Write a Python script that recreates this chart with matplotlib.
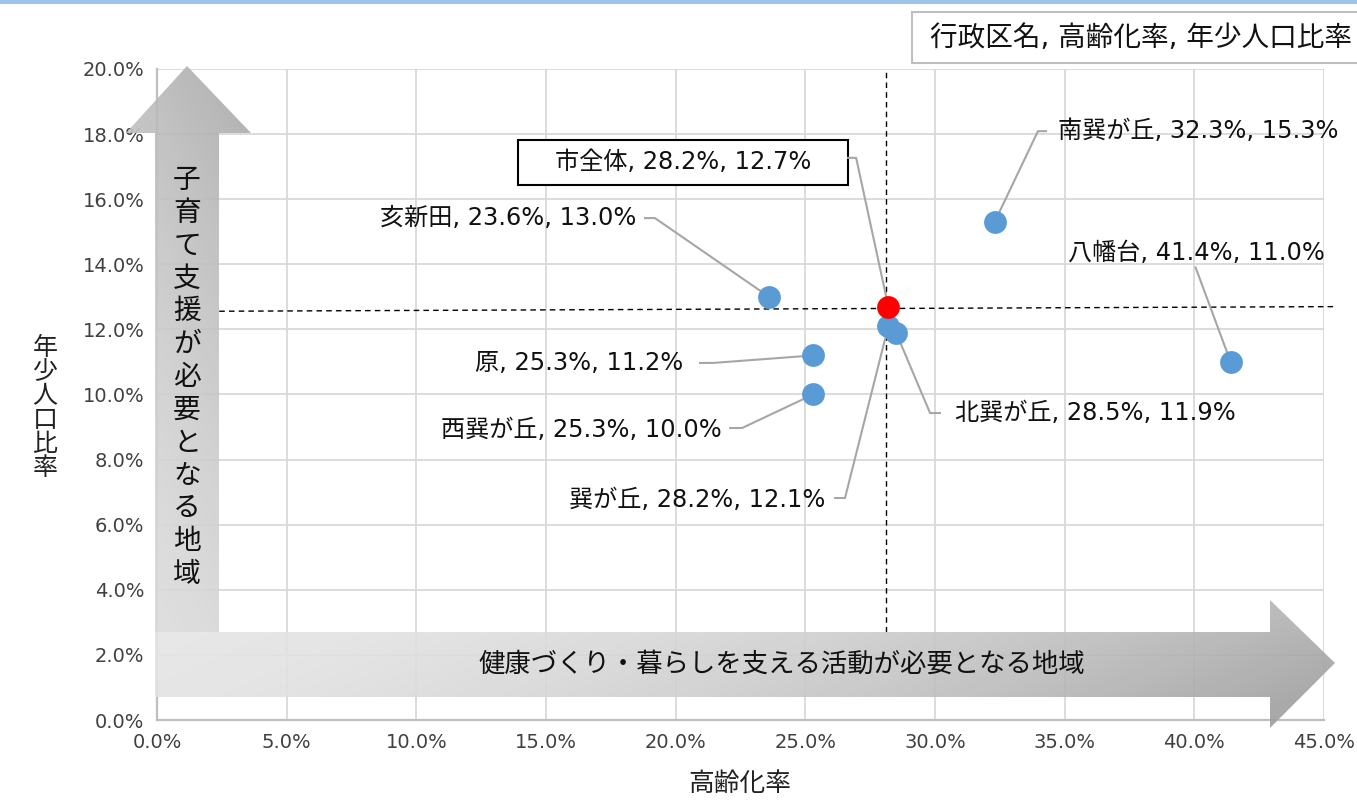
import matplotlib
matplotlib.use("Agg")
import matplotlib.pyplot as plt
import numpy as np
from matplotlib.patches import Polygon, Rectangle
from matplotlib.ticker import FuncFormatter

plt.rcParams['font.family'] = ['DejaVu Sans', 'Noto Sans CJK JP']

# ---- data ----
names = ['南巽が丘', '八幡台', '亥新田', '原', '西巽が丘', '巽が丘', '北巽が丘']
aging = [32.3, 41.4, 23.6, 25.3, 25.3, 28.2, 28.5]      # 高齢化率 (%)
youth = [15.3, 11.0, 13.0, 11.2, 10.0, 12.1, 11.9]      # 年少人口比率 (%)
city_name = '市全体'
city_aging = 28.2
city_youth = 12.7
ref_x = 28.1
ref_y = (12.55, 12.7)

x_ticks = np.arange(0, 46, 5)
y_ticks = np.arange(0, 21, 2)

# label layout (data coords): text x, text y, alignment, elbow points
label_layout = {
    '南巽が丘': (34.74, 18.1, 'left', [(34.28, 18.09), (33.97, 18.09)]),
    '八幡台': (40.1, 14.35, 'center', [(40.05, 13.9)]),
    '亥新田': (18.47, 15.42, 'right', [(18.82, 15.42), (19.2, 15.42)]),
    '原': (20.28, 10.97, 'right', [(20.94, 10.97), (21.45, 10.97)]),
    '西巽が丘': (21.79, 8.91, 'right', [(22.1, 8.97), (22.56, 8.97)]),
    '巽が丘': (25.76, 6.76, 'right', [(26.15, 6.82), (26.53, 6.82)]),
    '北巽が丘': (30.77, 9.43, 'left', [(30.19, 9.43), (29.81, 9.43)]),
}
city_elbow = [(26.65, 17.27), (26.96, 17.27)]

W, H = 1357, 800
fig = plt.figure(figsize=(W / 100, H / 100), dpi=100)
rect = [157 / W, 80 / H, 1167 / W, 651 / H]

# ---- base axes: grid, ticks ----
ax = fig.add_axes(rect, zorder=1)
ax.set_xlim(0, 45)
ax.set_ylim(0, 20)
ax.set_xticks(x_ticks)
ax.set_yticks(y_ticks)
pct = FuncFormatter(lambda v, p: f"{v:.1f}%")
ax.xaxis.set_major_formatter(pct)
ax.yaxis.set_major_formatter(pct)
ax.tick_params(length=0, labelsize=14, colors='#404040', pad=9)
ax.grid(True, color='#d9d9d9', lw=1.3)
ax.set_axisbelow(True)
for s in ['top', 'right']:
    ax.spines[s].set_visible(False)
for s in ['left', 'bottom']:
    ax.spines[s].set_color('#bfbfbf')
    ax.spines[s].set_linewidth(1.6)

# reference dashed lines (start where the arrows end)
ax.plot([ref_x, ref_x], [2.7, 20], ls='--', color='black', lw=1, dashes=(4, 3))
ax.plot([2.4, 45.4], [ref_y[0] + 0.0033 * 2.4, ref_y[1]], ls='--', color='black',
        lw=1, dashes=(4, 3), clip_on=False)

# ---- overlay axes in pixel coords: arrows and boxes ----
ov = fig.add_axes([0, 0, 1, 1], zorder=2)
ov.set_xlim(0, W)
ov.set_ylim(H, 0)
ov.axis('off')
ov.patch.set_alpha(0)


def grad_arrow(poly, c0, c1, wx, wy, gamma=1.0):
    poly = np.array(poly, dtype=float)
    x0, x1 = poly[:, 0].min(), poly[:, 0].max()
    y0, y1 = poly[:, 1].min(), poly[:, 1].max()
    X, Y = np.meshgrid(np.linspace(0, 1, 300), np.linspace(0, 1, 300))
    t = wx * X + wy * Y
    t = (t - t.min()) / (t.max() - t.min())
    t = t ** gamma
    c0 = np.array(matplotlib.colors.to_rgb(c0))
    c1 = np.array(matplotlib.colors.to_rgb(c1))
    img = c0[None, None, :] + (c1 - c0)[None, None, :] * t[..., None]
    im = ov.imshow(img, extent=(x0, x1, y1, y0), origin='upper', alpha=0.9,
                   aspect='auto', zorder=1)
    patch = Polygon(poly, closed=True, fc='none', ec='none')
    ov.add_patch(patch)
    im.set_clip_path(patch)


v_arrow = [(155, 632), (155, 133), (126, 133), (187, 66), (251, 133),
           (219, 133), (219, 632)]
h_arrow = [(155, 632), (1270, 632), (1270, 600), (1335, 663), (1270, 728),
           (1270, 697), (155, 697)]
grad_arrow(v_arrow, '#dedede', '#a6a6a6', 0.45, -1.0, 1.4)
grad_arrow(h_arrow, '#e6e6e6', '#979797', 1.0, 0.25, 1.8)
ov.set_xlim(0, W)
ov.set_ylim(H, 0)

ov.text(187, 377, "\n".join("子育て支援が必要となる地域"), ha='center', va='center',
        fontsize=20, linespacing=1.22, color='#111111', zorder=3)
ov.text(782, 665, "健康づくり・暮らしを支える活動が必要となる地域", ha='center',
        va='center', fontsize=19, color='#111111', zorder=3)

# legend-like caption box
ov.add_patch(Rectangle((912, 12), 460, 51, fc='white', ec='#bfbfbf', lw=1.5,
                       zorder=3))
ov.text(930, 38, "行政区名, 高齢化率, 年少人口比率", ha='left', va='center',
        fontsize=19.9, color='#111111', zorder=4)

# boxed label for the city
ov.add_patch(Rectangle((518, 140), 330, 45, fc='white', ec='black', lw=1.5,
                       zorder=3))

# top band
ov.add_patch(Rectangle((0, 0), W, 4, fc='#9dc3e6', ec='none', zorder=3))

# axis titles
ov.text(45, 408, "\n".join("年少人口比率"), ha='center', va='center',
        fontsize=18, linespacing=1.0, color='#222222')
ov.text(740, 784, "高齢化率", ha='center', va='center', fontsize=18.5,
        color='#222222')

# ---- top axes: points, leaders, labels ----
at = fig.add_axes(rect, zorder=3)
at.set_xlim(0, 45)
at.set_ylim(0, 20)
at.axis('off')
at.patch.set_alpha(0)

lab_fs = 17.4
for n, xv, yv in zip(names, aging, youth):
    tx, ty, ha, elbow = label_layout[n]
    pts = elbow + [(xv, yv)]
    at.plot([p[0] for p in pts], [p[1] for p in pts], color='#a6a6a6', lw=1.5,
            zorder=2, clip_on=False)
    at.text(tx, ty, f"{n}, {xv:.1f}%, {yv:.1f}%", ha=ha, va='center',
            fontsize=lab_fs, color='#111111', zorder=4)

at.scatter(aging, youth, s=270, color='#5b9bd5', zorder=3, linewidths=0)

pts = city_elbow + [(city_aging, city_youth)]
at.plot([p[0] for p in pts], [p[1] for p in pts], color='#a6a6a6', lw=1.5,
        zorder=2)
at.scatter([city_aging], [city_youth], s=270, color='#ff0000', zorder=3,
           linewidths=0)
at.text(20.28, 17.14, f"{city_name}, {city_aging:.1f}%, {city_youth:.1f}%",
        ha='center', va='center', fontsize=lab_fs, color='#111111', zorder=4)

fig.savefig("out.png", dpi=100)
